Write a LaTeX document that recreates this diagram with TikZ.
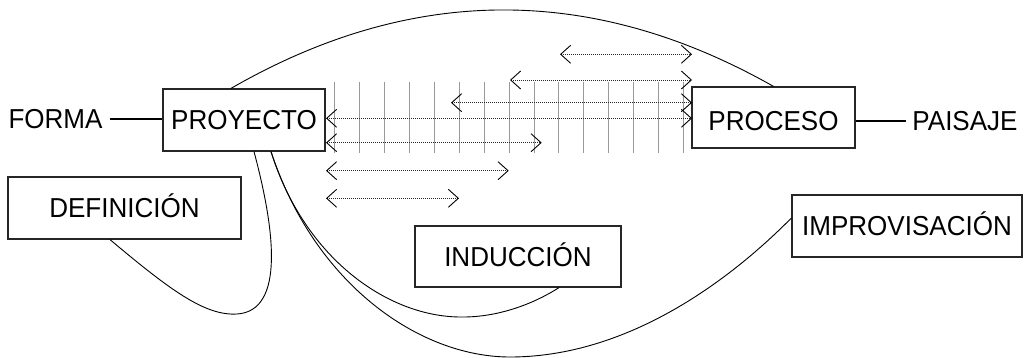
\documentclass[tikz,border=0pt]{standalone}
\usepackage{fontspec}
\setmainfont{Liberation Sans}[FakeStretch=0.95]
\usetikzlibrary{arrows.meta}
\begin{document}
\begin{tikzpicture}[x=1pt,y=-1pt,
  txt/.style={inner sep=0pt,text height=19.6pt,text depth=0pt,font=\fontsize{27.4}{31}\selectfont},
  box/.style={txt,draw=black!85,line width=1.2pt,rectangle},
  link/.style={line width=0.9pt,black},
  joint/.style={line width=2pt,black},
  gridline/.style={black!40,line width=0.8pt},
  dotarr/.style={black!85,line width=0.9pt,dash pattern=on 1pt off 1pt,
    >={Straight Barb[length=10pt,width=18pt,color=black]},<->}
]
\useasboundingbox (0,0) rectangle (1027,358);

\node[box,minimum width=162pt,minimum height=62pt] (proy) at (244,120) {PROYECTO};
\node[box,minimum width=163pt,minimum height=61pt,text height=26.6pt] (proc) at (773.5,117.5) {PROCESO};
\node[box,minimum width=233pt,minimum height=62pt] (def) at (124.5,208) {DEFINICIÓN};
\node[box,minimum width=206pt,minimum height=61pt] (ind) at (518,256.5) {INDUCCIÓN};
\node[box,minimum width=230pt,minimum height=62pt] (impr) at (907,226) {IMPROVISACIÓN};
\node[txt] (forma) at (55.5,118.8) {FORMA};
\node[txt] (pais) at (965,121) {PAISAJE};

\draw[joint] ([xshift=7pt]forma.east) -- (forma.east -| proy.west);
\draw[joint] (proc.east |- pais.west) -- ([xshift=-6pt]pais.west);

\foreach \i in {0,...,14}
  \draw[gridline] ({334.3+24.95*\i},82) -- ({334.3+24.95*\i},153);

\draw[dotarr] (560,54.3) -- (692,54.3);
\draw[dotarr] (510,80) -- (692,80);
\draw[dotarr] (451,102.7) -- (692,102.7);
\draw[dotarr] (326,118.3) -- (692,118.3);
\draw[dotarr] (326,142.7) -- (541.7,142.7);
\draw[dotarr] (326,170.7) -- (508.7,170.7);
\draw[dotarr] (326,198.3) -- (459,198.3);

\draw[link] ([xshift=-13pt]proy.north) .. controls (411.7,-15.7) and (592.7,-16) .. (proc.north);
\draw[link] ([xshift=-14.5pt]def.south) .. controls (170,290) and (205,316) .. (237,314)
  .. controls (285,311) and (275,230) .. ([xshift=10pt]proy.south);
\draw[link] ([xshift=27pt]proy.south) .. controls (305,260) and (390,318) .. (463,317)
  .. controls (500,317) and (535,303) .. ([xshift=41pt]ind.south);
\draw[link] ([xshift=27pt]proy.south) .. controls (315,285) and (420,357) .. (510,357)
  .. controls (620,357) and (720,290) .. ([yshift=8pt]impr.west);
\end{tikzpicture}
\end{document}
